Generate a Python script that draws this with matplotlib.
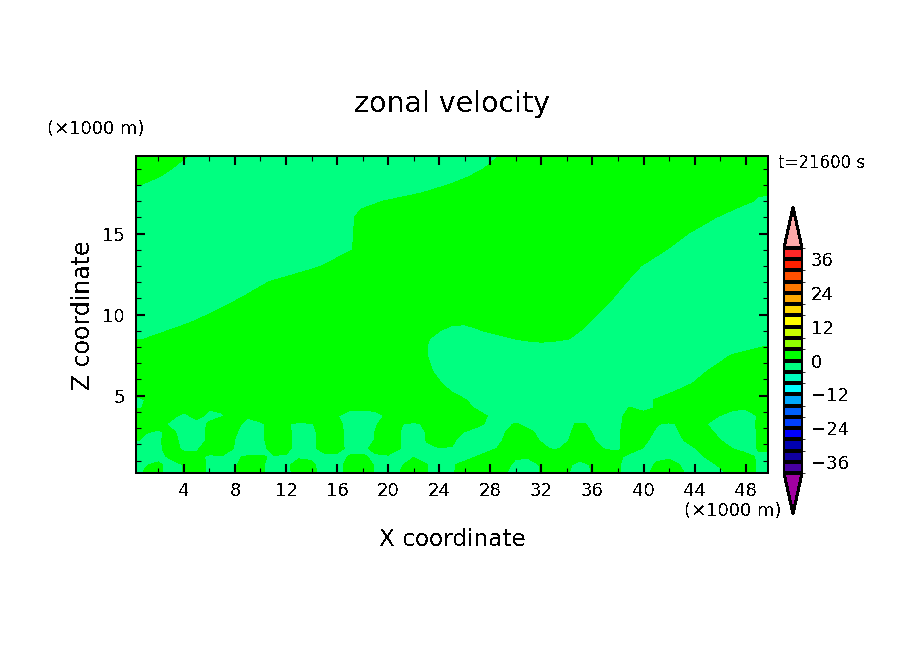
#!/usr/bin/env python3
import numpy as np
import matplotlib
matplotlib.use("Agg")
import matplotlib.pyplot as plt
from matplotlib.colors import ListedColormap, BoundaryNorm
from matplotlib.ticker import MultipleLocator

# x in km, one column per km
x_km = list(range(51))
z_km = [0.25, 0.75, 1.25, 1.75, 2.25, 2.75, 3.25, 3.75, 4.25, 4.75, 5.25, 5.75, 6.5, 7.5, 8,
        8.5, 9, 9.5, 10, 11, 12, 13, 14, 15, 16, 16.5, 17, 17.5, 18, 18.5, 19, 19.75]

# zonal velocity (m/s), one row per z_km, split in tens for counting
u_rows = [
    [-.8,.2,.3,-.7,.1,.7,-.3,-1,.1,1,  .3,-.7,-.4,.6,.4,-.6,-.5,.5,.9,-.1,  -1,.1,.9,.1,-.8,-.2,.8,1.8,1.3,.3,  -.7,-1,.1,1,.2,-.8,.1,1,.2,-.8,  -.5,.5,1.2,.2,-.8,-1.4,-.4,.6,.8,-.2,-1.2],
    [-1.1,-.1,.3,-.7,.1,.7,-.3,-1.2,-.2,.8,  .3,-.7,-.4,.7,.3,-.7,-.5,.5,.9,-.2,  -1.2,-.2,.8,.1,-1,-.3,.7,1.7,1.6,.6,  -.4,-.8,.2,1.2,.4,-.6,.2,1.2,.2,-.8,  -.8,.2,.8,-.2,-1.2,-.7,.3,1.3,.8,-.2,-1.2],
    [-2.6,-1.6,-.6,.4,.5,.5,-.3,-.1,-.1,.1,  .1,-.1,-.1,-.3,-.3,-.4,-.4,.1,.2,-.3,  -.2,-.2,-.1,-1,-1.5,-1.5,-.9,.1,1.1,1,  .2,.3,1.5,2,2,.8,2,1.4,.4,-.6,  -1.6,-.4,-.4,-1.2,-.7,.3,1.3,1.7,.7,-.3,-1.3],
    [-2.3,-1.3,-.3,.7,-.3,-.3,1.05,.9,-.1,-1.1,  -.5,.5,.4,-.6,-.4,.6,.55,-.45,-.45,.55,  .95,-.05,-1.05,-.15,-.05,-.1,-1.1,-1.5,-.5,.5,  1.5,1.6,.6,-.4,.5,1.5,.8,-.2,-.2,.8,  -.1,-1,-2,-1.1,-.1,.9,.95,-.05,-.85,.15,1.15],
    [.5,-.5,-.2,.55,-.45,-.7,.3,1,-.05,-1.05,  -.35,.65,.45,-.55,-.35,.65,.55,-.55,-.9,.1,  1,-.05,-1,.05,1,.3,-.7,-1.7,-1,.05,  1,.8,-.2,-1.15,-.15,.85,.2,-.8,-.2,.8,  .4,-.6,-1.15,-.15,.85,1,.05,-1,-.85,.15,1.15],
    [1.25,.1,-.2,.35,-.65,-.7,.3,1.2,.2,-.8,  -.35,.65,.45,-.65,-.35,.65,.55,-.55,-.95,.05,  1,-.05,-.9,.1,1.1,.9,-.1,-1.1,-1.2,-.2,  .8,.45,-.55,-1.35,-.35,.65,-.05,-1.2,-.2,.8,  .75,-.25,-.8,.2,1.2,.5,-.5,-1.5,-.85,.15,1.15],
    [2.65,1.65,.65,-.35,-1.35,-.75,.25,1.25,.7,-.7,  -.35,.65,.4,-.85,-.15,.85,.4,-.6,-1.15,-.15,  .85,.1,-.55,.45,1.45,2.45,1.6,.6,-.6,-.6,  .2,-.65,-1.65,-1.65,-.65,.45,-.45,-1.3,-.3,.7,  1.2,.2,-.5,.5,1,-.05,-1,-1.75,-.75,.25,1.25],
    [3,2.5,1.5,.5,-.5,.6,-.5,-.1,.5,.3,  1,2,3,3,2.1,1.1,.1,-.9,-1.65,-.65,  .35,1.35,2.35,3,3,2.75,1.75,.75,-.25,-1.25,  -2.25,-3,-3,-3,-3,-3,-2.4,-1.4,-.4,.6,  1.6,2.6,3,2.9,1.9,.9,-.1,-1.1,-.9,.1,1.1],
    [-.7,.3,1.3,2.3,.8,1.5,.2,.2,1.5,2,  3,3,3,3,3,3,1.5,.4,.7,.5,  1.5,2,3,3,3,1.7,.7,-.3,-1.3,-2.3,  -3,-3,-3,-3,-3,-3,-2.45,-1.45,-.45,.1,  -1.2,.3,1.7,2.7,3,2.5,1.5,.5,.2,.8,1.5],
    [-1,.1,1,2,3,3,3,3,3,3,  3,3,3,3,3,3,3,3,3,3,  3,3,3,3,2.1,1.1,.1,-.9,-1.9,-2.9,  -3,-3,-3,-3,-3,-3,-3,-3,-2.8,-1.8,  -.8,.2,1.2,2.2,3,3,3,3,3,3,3],
    [.7,1,2,3,3,3,3,3,3,3,  3,3,3,3,3,3,3,3,3,3,  3,3,3,2,1,-.05,-1,-2,-3,-3,  -3,-3,-3,-3,-3,-3,-3,-3,-3,-3,  -2.4,-1.4,-.4,.6,1.6,2.6,3,3,3,3,3],
    [3,3,3,3,3,3,3,3,3,3,  3,3,3,3,3,3,3,3,3,3,  3,3,2.2,1.2,.2,-.8,-1.8,-2.8,-3,-3,  -3,-3,-3,-3,-3,-3,-3,-3,-3,-3,  -3,-2.8,-1.8,-.8,.2,1.2,2.2,3,3,3,3],
    [3,3,3,3,3,3,3,3,3,3,  3,3,3,3,3,3,3,3,3,3,  3,2.5,1.5,.5,-.5,-1.5,-2.5,-3,-3,-3,  -3,-3,-3,-3,-3,-3,-3,-3,-3,-3,  -3,-3,-3,-2,-1,.05,1,2,3,3,3],
    [3,3,3,3,3,3,3,3,3,3,  3,3,3,3,3,3,3,3,3,3,  3,2.05,1.05,.05,-.95,-1.95,-2.95,-3,-3,-3,  -3,-3,-3,-3,-3,-3,-3,-3,-3,-3,  -3,-3,-3,-3,-2.8,-1.8,-.8,.2,1.2,2.2,3],
    [3,3,3,3,3,3,3,3,3,3,  3,3,3,3,3,3,3,3,3,3,  3,2,1,.05,-1,-2,-3,-3,-3,-3,  -3,-3,-3,-3,-3,-3,-3,-3,-3,-3,  -3,-3,-3,-3,-3,-3,-3,-2.3,-1.3,-.3,.7],
    [-.9,.1,1.1,2.1,3,3,3,3,3,3,  3,3,3,3,3,3,3,3,3,3,  3,2.25,1.25,.25,-.75,-1.75,-2.75,-2.9,-1.9,-.9,  .1,1.1,2,1.2,.2,-.8,-1.8,-2.8,-3,-3,  -3,-3,-3,-3,-3,-3,-3,-3,-3,-3,-3],
    [-2.7,-1.7,-.7,.3,1.3,2.3,3,3,3,3,  3,3,3,3,3,3,3,3,3,3,  3,3,2,1,.05,-1,-1.4,-.4,.6,1.6,  2.6,3,3,2,1,.05,-1,-2,-3,-3,  -3,-3,-3,-3,-3,-3,-3,-3,-3,-3,-3],
    [-3,-3,-2.5,-1.5,-.5,.5,1.5,2.5,3,3,  3,3,3,3,3,3,3,3,3,3,  3,3,3,3,1,.5,.5,1,3,3,  3,3,3,2.7,1.7,.7,-.3,-1.3,-2.3,-3,  -3,-3,-3,-3,-3,-3,-3,-3,-3,-3,-3],
    [-3,-3,-3,-2.9,-1.9,-.9,.1,1.1,2.1,3,  3,3,3,3,3,3,3,3,3,3,  3,3,3,3,3,3,3,3,3,3,  3,3,3,3,2.35,1.35,.35,-.65,-1.65,-2.65,  -3,-3,-3,-3,-3,-3,-3,-3,-3,-3,-3],
    [-3,-3,-3,-3,-3,-3,-2.4,-1.4,-.4,.6,  1.6,2.6,3,3,3,3,3,3,3,3,  3,3,3,3,3,3,3,3,3,3,  3,3,3,3,3,2.6,1.6,.6,-.4,-1.4,  -2.4,-3,-3,-3,-3,-3,-3,-3,-3,-3,-3],
    [-3,-3,-3,-3,-3,-3,-3,-3,-2.6,-1.6,  -.6,.4,1.4,2.4,3,3,3,3,3,3,  3,3,3,3,3,3,3,3,3,3,  3,3,3,3,3,3,2.65,1.65,.65,-.35,  -1.35,-2.35,-3,-3,-3,-3,-3,-3,-3,-3,-3],
    [-3,-3,-3,-3,-3,-3,-3,-3,-3,-3,  -3,-3,-2.8,-1.8,-.8,.2,1.2,2.2,3,3,  3,3,3,3,3,3,3,3,3,3,  3,3,3,3,3,3,3,2.8,1.8,.8,  -.2,-1.2,-2.2,-3,-3,-3,-3,-3,-3,-3,-3],
    [-3,-3,-3,-3,-3,-3,-3,-3,-3,-3,  -3,-3,-3,-3,-3,-2.2,-1.2,-.2,.8,1.8,  2.8,3,3,3,3,3,3,3,3,3,  3,3,3,3,3,3,3,3,3,2.8,  1.8,.8,-.2,-1.2,-2.2,-3,-3,-3,-3,-3,-3],
    [-3,-3,-3,-3,-3,-3,-3,-3,-3,-3,  -3,-3,-3,-3,-3,-2.3,-1.3,-.3,.7,1.7,  2.7,3,3,3,3,3,3,3,3,3,  3,3,3,3,3,3,3,3,3,3,  3,2.5,1.5,.5,-.5,-1.5,-2.5,-3,-3,-3,-3],
    [-3,-3,-3,-3,-3,-3,-3,-3,-3,-3,  -3,-3,-3,-3,-3,-2.35,-1.35,-.35,.65,1.65,  2.65,3,3,3,3,3,3,3,3,3,  3,3,3,3,3,3,3,3,3,3,  3,3,3,2.7,1.7,.7,-.3,-1.3,-2.3,-3,-3],
    [-3,-3,-3,-3,-3,-3,-3,-3,-3,-3,  -3,-3,-3,-3,-3,-2.85,-1.85,-.85,.15,1.15,  2.15,3,3,3,3,3,3,3,3,3,  3,3,3,3,3,3,3,3,3,3,  3,3,3,3,3,2.1,1.1,.1,-.9,-1.9,-2.9],
    [-3,-3,-3,-3,-3,-3,-3,-3,-3,-3,  -3,-3,-3,-3,-3,-3,-3,-2.6,-1.6,-.6,  .4,1.4,2.4,3,3,3,3,3,3,3,  3,3,3,3,3,3,3,3,3,3,  3,3,3,3,3,3,2.6,1.6,.6,-.4,-1.4],
    [-3,-3,-3,-3,-3,-3,-3,-3,-3,-3,  -3,-3,-3,-3,-3,-3,-3,-3,-3,-3,  -2.6,-1.6,-.6,.4,1.4,2.4,3,3,3,3,  3,3,3,3,3,3,3,3,3,3,  3,3,3,3,3,3,3,2.5,1.5,.3,.5],
    [.6,-.4,-1.4,-2.4,-3,-3,-3,-3,-3,-3,  -3,-3,-3,-3,-3,-3,-3,-3,-3,-3,  -3,-3,-2.7,-1.7,-.7,.3,1.3,2.3,3,3,  3,3,3,3,3,3,3,3,3,3,  3,3,3,3,3,3,3,3,3,3,3],
    [2.1,1.1,.1,-.9,-1.9,-2.9,-3,-3,-3,-3,  -3,-3,-3,-3,-3,-3,-3,-3,-3,-3,  -3,-3,-3,-3,-2.3,-1.3,-.3,.7,1.7,2.7,  3,3,3,3,3,3,3,3,3,3,  3,3,3,3,3,3,3,3,3,3,3],
    [3,2,1,.05,-1,-2,-3,-3,-3,-3,  -3,-3,-3,-3,-3,-3,-3,-3,-3,-3,  -3,-3,-3,-3,-3,-2.5,-1.5,-.5,.5,1.5,  2.5,3,3,3,3,3,3,3,3,3,  3,3,3,3,3,3,3,3,3,3,3],
    [3,3,2.3,1.3,.3,-.7,-1.7,-2.7,-3,-3,  -3,-3,-3,-3,-3,-3,-3,-3,-3,-3,  -3,-3,-3,-3,-3,-3,-2.6,-1.6,-.6,.4,  1.4,2.4,3,3,3,3,3,3,3,3,  3,3,3,3,3,3,3,3,3,3,3],
]

levels = list(range(-40, 41, 4))
band_colors = ["#4800a0", "#1000a0", "#0000b0", "#0000ff", "#0040ff", "#0060ff", "#00a8ff",
               "#00ffff", "#00ffc0", "#00ff80", "#00ff00", "#90ff00", "#c8ff00", "#ffff00",
               "#ffd800", "#ffa800", "#ff7800", "#ff5000", "#ff2000", "#ff2828"]
over_color = "#ffaaaa"
under_color = "#a000a0"
cbar_ticks = [-36, -24, -12, 0, 12, 24, 36]

W, H = 904, 654

plt.rcParams['text.antialiased'] = False
plt.rcParams['lines.antialiased'] = False
plt.rcParams['patch.antialiased'] = False
plt.rcParams['font.family'] = 'DejaVu Sans'


def pxaxes(left, top, right, bottom):
    return [left / W, 1 - bottom / H, (right - left) / W, (bottom - top) / H]


def pxtext(x, y, s, **kw):
    fig.text(x / W, 1 - y / H, s, ha=kw.pop('ha', 'center'), va=kw.pop('va', 'center'), **kw)


fig = plt.figure(figsize=(W / 100, H / 100), dpi=100)
ax = fig.add_axes(pxaxes(136, 156.5, 768, 472.7))

cmap = ListedColormap(band_colors)
cmap.set_over(over_color)
cmap.set_under(under_color)
norm = BoundaryNorm(levels, cmap.N)

u = np.array(u_rows)
cf = ax.contourf(x_km, z_km, u, levels=levels, cmap=cmap, norm=norm, extend='both', antialiased=False)

ax.set_xlim(0.25, 49.75)
ax.set_ylim(0.25, 19.75)
ax.xaxis.set_major_locator(MultipleLocator(4))
ax.xaxis.set_minor_locator(MultipleLocator(2))
ax.yaxis.set_major_locator(MultipleLocator(5))
ax.yaxis.set_minor_locator(MultipleLocator(1))
ax.tick_params(which='major', direction='in', length=6.5, width=1.5, top=True, right=True, labelsize=13)
ax.tick_params(which='minor', direction='in', length=3.6, width=0.8, top=True, right=True)
ax.tick_params(axis='x', which='major', pad=7)
ax.tick_params(axis='y', which='major', pad=8)
for spine in ax.spines.values():
    spine.set_linewidth(1.2)

# the colorbar axes takes in the two end triangles
cax = fig.add_axes(pxaxes(784, 207, 802, 514))
cbar = fig.colorbar(cf, cax=cax, ticks=cbar_ticks, drawedges=True, extendfrac=41 / 225.3, spacing='uniform')
cbar.dividers.set_linewidth(1.5)
cbar.dividers.set_color('black')
cbar.outline.set_linewidth(1.4)
cbar.ax.tick_params(length=0, pad=6.5, labelsize=13)

pxtext(452, 104, "zonal velocity", fontsize=20.5)
pxtext(452, 540, "X coordinate", fontsize=16.7)
pxtext(83, 315, "Z coordinate", fontsize=17, rotation=90)
pxtext(95.5, 129, "(×1000 m)", fontsize=13)
pxtext(733, 511, "(×1000 m)", fontsize=13)
pxtext(821.5, 163, "t=21600 s", fontsize=12)

fig.savefig("out.png", dpi=100)
